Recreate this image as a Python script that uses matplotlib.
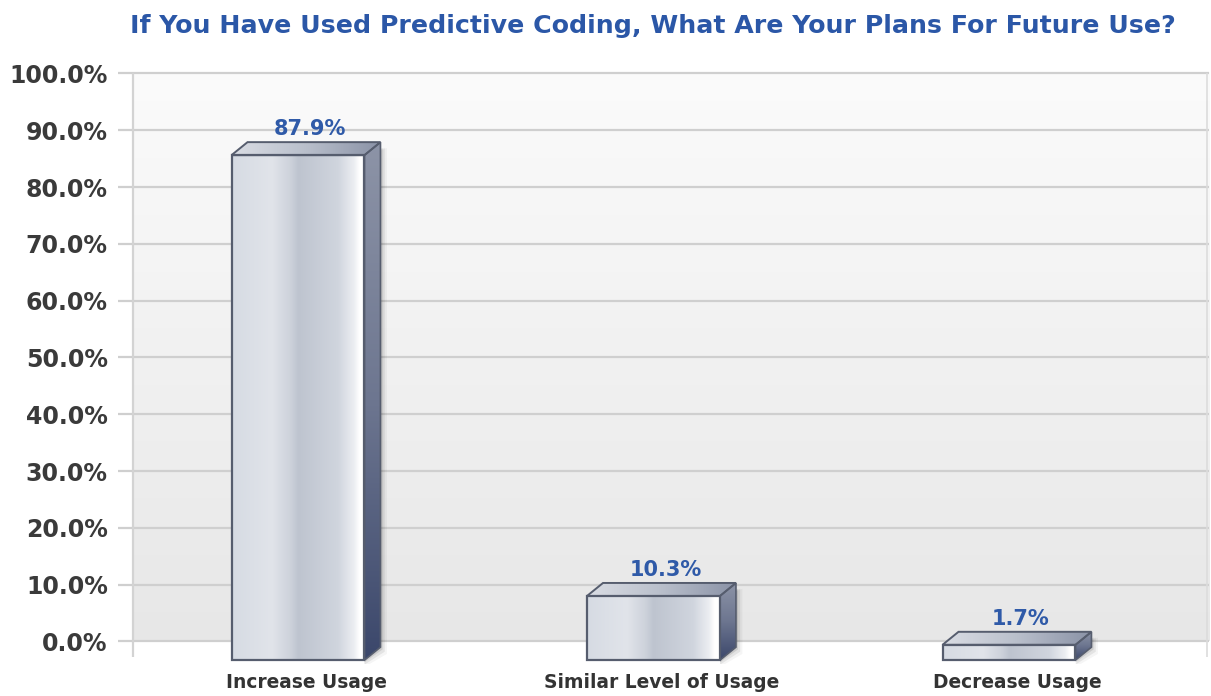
import numpy as np
import matplotlib.pyplot as plt
from matplotlib.patches import Polygon
from matplotlib.colors import LinearSegmentedColormap

categories = ["Increase Usage", "Similar Level of Usage", "Decrease Usage"]
values = [87.9, 10.3, 1.7]
yticks = np.arange(0, 101, 10)
title = "If You Have Used Predictive Coding, What Are Your Plans For Future Use?"

fig = plt.figure(figsize=(12.11, 6.96), dpi=100)
ax = fig.add_axes([0.0971, 0.0457, 0.9012, 0.857])

X0, X1 = -0.53, 2.54
Y0, Y1 = -4, 101
WALL = -0.487      # left wall of the plot box
W = 0.374          # bar width
DX, DY = 0.045, 2.29  # depth of the 3d look, in data units

# back wall with a soft vertical gradient
bg_cmap = LinearSegmentedColormap.from_list("bg", ["#e7e7e7", "#fbfbfb"])
ax.imshow(np.linspace(0, 1, 256).reshape(-1, 1), extent=[WALL, X1, 0, 100],
          origin="lower", cmap=bg_cmap, aspect="auto", zorder=0)

ax.hlines(yticks, X0, X1, color="#cfcfcf", lw=1.6, zorder=1)
ax.vlines(WALL, -2.8, 100, color="#d3d3d3", lw=1.6, zorder=1)
ax.vlines(X1 - 0.006, -2.8, 100, color="#dcdcdc", lw=1.2, zorder=1)

front_cmap = LinearSegmentedColormap.from_list("front", [
    (0.0, "#d6dbe3"), (0.3, "#e1e4ea"), (0.44, "#cdd2db"), (0.5, "#bec4cf"),
    (0.8, "#d0d5de"), (0.92, "#eceef2"), (0.96, "#ffffff"), (1.0, "#ffffff")])
side_cmap = LinearSegmentedColormap.from_list("side", ["#3b476b", "#6d7690", "#8d94a7"])
top_cmap = LinearSegmentedColormap.from_list("top", ["#dadde4", "#b9bfcb", "#8a92a6"])
edge = "#565d6e"

hgrad = np.linspace(0, 1, 256).reshape(1, -1)
vgrad = np.linspace(0, 1, 256).reshape(-1, 1)

for i, v in enumerate(values):
    cf = i - DX / 2
    xl, xr = cf - W / 2, cf + W / 2
    bot = -DY - 1

    # soft shadow behind the bar
    for k, a in enumerate([0.10, 0.07, 0.04]):
        s = 0.006 * (k + 1)
        sh = Polygon([(xr, bot - 0.4 * (k + 1)), (xr + DX + s, -1 - 0.4 * (k + 1)),
                      (xr + DX + s, v - 1), (xr + s, v - DY)],
                     closed=True, facecolor="#000000", alpha=a, lw=0, zorder=2)
        ax.add_patch(sh)

    # front face
    bar = ax.bar(cf, v + 1, W, bottom=bot, facecolor="none", edgecolor=edge,
                 lw=1.6, zorder=5)[0]
    ax.imshow(hgrad, extent=[xl, xr, bot, v - DY], cmap=front_cmap,
              aspect="auto", zorder=4)

    # right side
    side = Polygon([(xr, bot), (xr + DX, -1), (xr + DX, v), (xr, v - DY)],
                   closed=True, facecolor="none", edgecolor=edge, lw=1.2, zorder=5)
    ax.add_patch(side)
    im = ax.imshow(vgrad, extent=[xr, xr + DX, bot, v], origin="lower",
                   cmap=side_cmap, aspect="auto", zorder=4)
    im.set_clip_path(side)

    # top face
    top = Polygon([(xl, v - DY), (xl + DX, v), (xr + DX, v), (xr, v - DY)],
                  closed=True, facecolor="none", edgecolor=edge, lw=1.4, zorder=5)
    ax.add_patch(top)
    im = ax.imshow(hgrad, extent=[xl, xr + DX, v - DY, v], cmap=top_cmap,
                   aspect="auto", zorder=4)
    im.set_clip_path(top)

    ax.text(i + DX / 4, v + 0.5, f"{v}%", ha="center", va="bottom",
            color="#2f5aa8", fontsize=15, fontweight="bold", zorder=6)

ax.set_xlim(X0, X1)
ax.set_ylim(Y0, Y1)
ax.set_yticks(yticks, labels=[f"{t:.1f}%" for t in yticks])
ax.set_xticks(range(len(categories)), labels=categories)
ax.tick_params(axis="y", length=0, pad=7, labelsize=17, labelcolor="#3a3a3a")
ax.tick_params(axis="x", length=0, pad=6, labelsize=13.4, labelcolor="#333333")
for lab in ax.get_yticklabels() + ax.get_xticklabels():
    lab.set_fontweight("bold")
for sp in ax.spines.values():
    sp.set_visible(False)
ax.patch.set_visible(False)

fig.text(0.539, 0.963, title, ha="center", va="center", color="#2b57a7",
         fontsize=18.2, fontweight="bold")

fig.savefig("out.png", dpi=100)
